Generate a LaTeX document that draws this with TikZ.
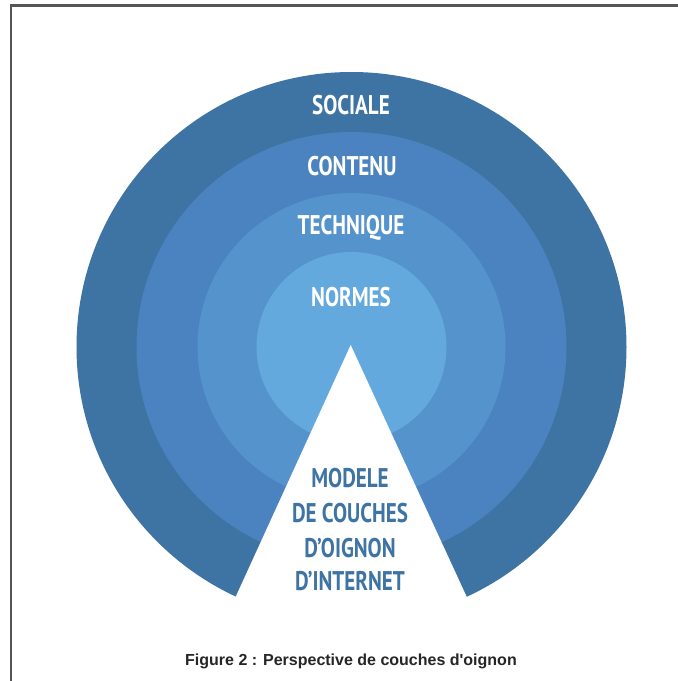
\documentclass[tikz,border=0pt]{standalone}
\usepackage{fontspec}
\setmainfont{PT Sans}
\newfontfamily\capfont{Liberation Sans}
\usepackage{graphicx}
\definecolor{ringA}{RGB}{62,116,163}
\definecolor{ringB}{RGB}{74,131,192}
\definecolor{ringC}{RGB}{85,147,205}
\definecolor{ringD}{RGB}{100,169,222}
\definecolor{framegray}{RGB}{85,85,85}
\newcommand{\squeezetext}[1]{\scalebox{0.78}[1]{#1}}
\newcommand{\straightap}{\char"0027\relax}
\tikzset{
  ringlabel/.style={text=white, font=\fontsize{27}{27}\selectfont\bfseries, inner sep=0pt, anchor=center},
  wedgelabel/.style={text=ringA, font=\fontsize{27}{27}\selectfont\bfseries, inner sep=0pt, anchor=center},
  framerule/.style={draw=framegray, line width=2.8pt}
}
\begin{document}
\begin{tikzpicture}[x=1pt,y=-1pt]
\useasboundingbox (0,0) rectangle (678,681);
\fill[white] (0,0) rectangle (678,681);
% frame
\draw[framerule] (11,681) -- (11,5.5) -- (678,5.5);
% rings
\coordinate (c) at (351.5,347);
\fill[ringA] (c) circle[radius=275];
\fill[ringB] (c) circle[radius=215];
\fill[ringC] (c) circle[radius=154];
\fill[ringD] (c) circle[radius=95];
% wedge
\coordinate (apex) at (350.7,345);
\coordinate (bl) at (220.5,630);
\coordinate (br) at (482,630);
\fill[white] (apex) -- (bl) -- (br) -- cycle;
% labels
\node[ringlabel] (sociale) at (351,105) {\squeezetext{SOCIALE}};
\node[ringlabel] (contenu) at (352,166) {\squeezetext{CONTENU}};
\node[ringlabel] (technique) at (351,228) {\squeezetext{TECHNIQUE}};
\node[ringlabel] (normes) at (351,297) {\squeezetext{NORMES}};
\node[wedgelabel] (l1) at (350,478) {\squeezetext{MODELE}};
\node[wedgelabel] (l2) at (350,513) {\squeezetext{DE COUCHES}};
\node[wedgelabel] (l3) at (350,548) {\squeezetext{D\straightap OIGNON}};
\node[wedgelabel] (l4) at (350,581) {\squeezetext{D\straightap INTERNET}};
% caption
\node[font=\capfont\fontsize{16}{16}\selectfont\bfseries, text=black!85, inner sep=0pt] (caption) at (351,661) {Figure 2 : Perspective de couches d\straightap oignon};
\end{tikzpicture}
\end{document}
